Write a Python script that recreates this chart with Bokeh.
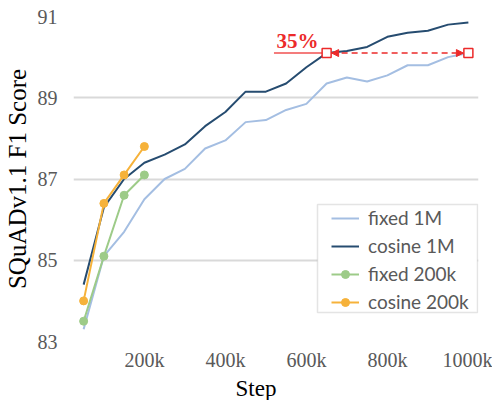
from bokeh.plotting import figure
from bokeh.models import (Range1d, FixedTicker, Legend, LegendItem, Title,
                          Arrow, NormalHead, BoxAnnotation)
from bokeh.core.properties import value
from bokeh.embed import file_html
from bokeh.resources import INLINE

# ---------------- data ----------------
steps_1m = [50, 100, 150, 200, 250, 300, 350, 400, 450, 500,
            550, 600, 650, 700, 750, 800, 850, 900, 950, 1000]
fixed_1m = [83.3, 85.1, 85.7, 86.5, 87.0, 87.25, 87.75, 87.95, 88.4, 88.45,
            88.7, 88.85, 89.35, 89.5, 89.4, 89.55, 89.8, 89.8, 90.0, 90.1]
cosine_1m = [84.4, 86.3, 87.0, 87.4, 87.6, 87.85, 88.3, 88.65, 89.15, 89.15,
             89.35, 89.75, 90.1, 90.15, 90.25, 90.5, 90.6, 90.65, 90.8, 90.85]
steps_200k = [50, 100, 150, 200]
fixed_200k = [83.5, 85.1, 86.6, 87.1]
cosine_200k = [84.0, 86.4, 87.1, 87.8]

x_tick_values = [200, 400, 600, 800, 1000]
x_tick_labels = ["200k", "400k", "600k", "800k", "1000k"]
y_tick_values = [83, 85, 87, 89, 91]

series_names = ["fixed 1M", "cosine 1M", "fixed 200k", "cosine 200k"]
x_title = "Step"
y_title = "SQuADv1.1 F1 Score"

ann_y = 90.1
ann_x_start = 650
ann_x_end = 1000
ann_underline_x = 520
ann_text = "35%"

# ---------------- styles ----------------
C_LIGHT = "#A4BEE2"
C_DARK = "#264C70"
C_GREEN = "#9DCB88"
C_ORANGE = "#F6B23A"
C_RED = "#EC2A2A"
C_RED_LIGHT = "#F47C7C"
GRAY_TXT = "#595959"
SERIF = "Liberation Serif"

W, H = 492, 400
BL, BR, BT, BB = 73, 14, 16, 55
FRAME_W = W - BL - BR
FRAME_H = H - BT - BB

x_lo, x_hi = 25, 1025

p = figure(width=W, height=H, x_range=Range1d(x_lo, x_hi), y_range=Range1d(83, 91),
           output_backend="svg", toolbar_location=None,
           min_border_left=BL, min_border_right=BR, min_border_top=BT, min_border_bottom=BB)
p.outline_line_color = None
p.background_fill_color = "white"
p.border_fill_color = "white"

p.xgrid.visible = False
p.ygrid.ticker = FixedTicker(ticks=y_tick_values)
p.ygrid.grid_line_color = "#D9D9D9"
p.ygrid.grid_line_width = 2

for ax in (p.xaxis[0], p.yaxis[0]):
    ax.axis_line_color = None
    ax.major_tick_line_color = None
    ax.minor_tick_line_color = None
    ax.major_tick_out = 0
    ax.major_label_text_font = SERIF
    ax.major_label_text_font_size = "20px"
    ax.major_label_text_color = GRAY_TXT
    ax.axis_label_text_font = SERIF
    ax.axis_label_text_font_style = "normal"
    ax.axis_label_text_color = "black"

p.xaxis.ticker = FixedTicker(ticks=x_tick_values)
p.xaxis.major_label_overrides = {v: l for v, l in zip(x_tick_values, x_tick_labels)}
p.xaxis.major_label_standoff = 7

# x title as a bottom Title, shifted left as in the original
p.add_layout(Title(text=x_title, align="left", offset=162, standoff=0,
                   text_font=SERIF, text_font_size="23px", text_font_style="normal",
                   text_color="black"), "below")

p.yaxis.ticker = FixedTicker(ticks=y_tick_values)
p.yaxis.major_label_standoff = 16
p.yaxis.axis_label = y_title
p.yaxis.axis_label_text_font_size = "25px"
p.yaxis.axis_label_standoff = 4

# ---------------- series ----------------
r1 = p.line(steps_1m, fixed_1m, line_color=C_LIGHT, line_width=2)
r2 = p.line(steps_1m, cosine_1m, line_color=C_DARK, line_width=2)
r3l = p.line(steps_200k, fixed_200k, line_color=C_GREEN, line_width=2)
r3s = p.scatter(steps_200k, fixed_200k, size=8, fill_color=C_GREEN, line_color=C_GREEN)
r4l = p.line(steps_200k, cosine_200k, line_color=C_ORANGE, line_width=2)
r4s = p.scatter(steps_200k, cosine_200k, size=8, fill_color=C_ORANGE, line_color=C_ORANGE)

# ---------------- annotation ----------------
px_to_x = (x_hi - x_lo) / FRAME_W
off = 5 * px_to_x
p.add_layout(Arrow(start=NormalHead(size=7, fill_color=C_RED, line_color=C_RED),
                   end=NormalHead(size=7, fill_color=C_RED, line_color=C_RED),
                   x_start=ann_x_start + off, y_start=ann_y,
                   x_end=ann_x_end - off, y_end=ann_y,
                   line_color=C_RED, line_width=1.6, line_dash="6 4"))
p.segment(x0=[ann_underline_x], y0=[ann_y], x1=[ann_x_start], y1=[ann_y],
          line_color=C_RED_LIGHT, line_width=2)
p.scatter([ann_x_start, ann_x_end], [ann_y, ann_y], marker="square", size=9,
          fill_color="white", line_color=C_RED, line_width=1.5, level="overlay")
p.text(x=[ann_underline_x + 6], y=[ann_y], text=[ann_text],
       text_font=value(SERIF), text_font_style="bold", text_font_size="21px",
       text_color=C_RED, text_baseline="bottom", text_align="left")

# ---------------- legend ----------------
LEG_L, LEG_R, LEG_B, LEG_T = 244, 404, 29, 137
p.add_layout(BoxAnnotation(left=LEG_L, right=LEG_R, bottom=LEG_B, top=LEG_T,
                           left_units="screen", right_units="screen",
                           bottom_units="screen", top_units="screen",
                           fill_color="white", fill_alpha=1,
                           line_color="#A6A6A6", line_width=1.5))
legend = Legend(items=[LegendItem(label=series_names[0], renderers=[r1]),
                       LegendItem(label=series_names[1], renderers=[r2]),
                       LegendItem(label=series_names[2], renderers=[r3l, r3s]),
                       LegendItem(label=series_names[3], renderers=[r4l, r4s])],
                location=(LEG_L + 14, LEG_B - 1), orientation="vertical",
                label_text_font="Lato", label_text_font_size="19px",
                label_text_color=GRAY_TXT, label_height=20,
                glyph_width=28, glyph_height=20, label_standoff=9,
                spacing=5, padding=4, margin=0,
                border_line_color=None, background_fill_alpha=0)
p.add_layout(legend, "center")

open("out.html", "w").write(file_html(p, INLINE))
